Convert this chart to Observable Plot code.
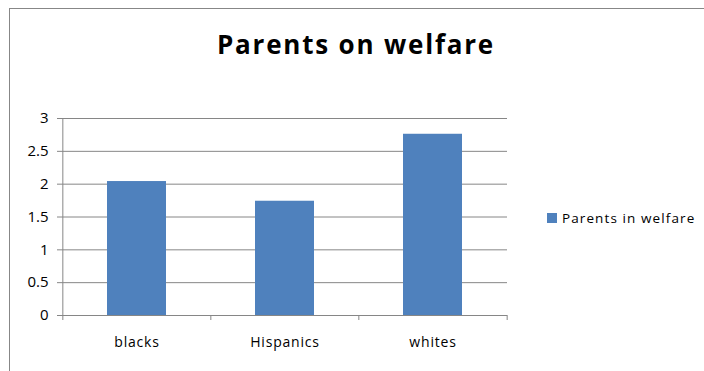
<!DOCTYPE html>
<html>
<head>
<meta charset="utf-8">
<script src="https://cdn.jsdelivr.net/npm/d3@7"></script>
<script src="https://cdn.jsdelivr.net/npm/@observablehq/plot@0.6"></script>
<style>
  html, body { margin: 0; padding: 0; background: #fff; }
  #wrap { position: relative; width: 704px; height: 371px; overflow: hidden; font-family: "Open Sans", sans-serif; }
  #frame { position: absolute; left: 9px; top: 8px; width: 720px; height: 400px; border: 1px solid #878787; box-sizing: border-box; }
  #title { position: absolute; left: 0; width: 712px; top: 26px; text-align: center; font-size: 26px; font-weight: bold; letter-spacing: 1.8px; color: #000; }
  #chart { position: absolute; left: 0; top: 0; }
  #chart svg g[aria-label="x-axis tick label"] text { letter-spacing: 0.8px; }
  #legend { position: absolute; left: 547px; top: 209px; font-size: 13.5px; letter-spacing: 1.1px; color: #000; display: flex; align-items: center; white-space: nowrap; }
  #legend .sw { width: 10px; height: 10px; margin-right: 5px; }
</style>
</head>
<body>
<div id="wrap">
  <div id="frame"></div>
  <div id="chart"></div>
  <div id="title">Parents on welfare</div>
  <div id="legend"></div>
</div>
<script>
const categories = ["blacks", "Hispanics", "whites"];
const values = [2.04, 1.74, 2.76];
const yTicks = [0, 0.5, 1, 1.5, 2, 2.5, 3];
const yTickLabels = ["0", "0.5", "1", "1.5", "2", "2.5", "3"];
const seriesName = "Parents in welfare";
const barColor = "#4f81bd";

const data = categories.map((c, i) => ({category: c, value: values[i]}));
const step = (704 - 62 - 197) / categories.length;

const chart = Plot.plot({
  width: 704,
  height: 371,
  marginLeft: 62,
  marginRight: 197,
  marginTop: 118,
  marginBottom: 56,
  style: {fontFamily: "Open Sans, sans-serif", fontSize: "14px", color: "#000", background: "transparent"},
  x: {domain: categories, paddingInner: 0.6, paddingOuter: 0.3, label: null},
  y: {domain: [0, 3], label: null},
  marks: [
    Plot.ruleY(yTicks, {stroke: "#868686", strokeWidth: 1}),
    Plot.barY(data, {x: "category", y: "value", fill: barColor}),
    Plot.axisY({ticks: yTicks, tickFormat: (d) => yTickLabels[yTicks.indexOf(d)], tickSize: 5, tickPadding: 9, stroke: "#868686", fontSize: 15, label: null}),
    Plot.axisX({tickSize: 0, tickPadding: 22, fontSize: 14, label: null}),
    Plot.ruleX(categories, {x: d => d, y1: 0, y2: 0, insetBottom: -5, dx: -step / 2, stroke: "#868686"}),
    Plot.ruleX([categories[categories.length - 1]], {x: d => d, y1: 0, y2: 0, insetBottom: -5, dx: step / 2, stroke: "#868686"}),
    Plot.ruleX([categories[0]], {x: d => d, y1: 0, y2: 3, dx: -step / 2, stroke: "#868686"})
  ]
});
document.getElementById("chart").appendChild(chart);

const legend = document.getElementById("legend");
legend.innerHTML = `<div class="sw" style="background:${barColor}"></div><span>${seriesName}</span>`;
</script>
</body>
</html>
